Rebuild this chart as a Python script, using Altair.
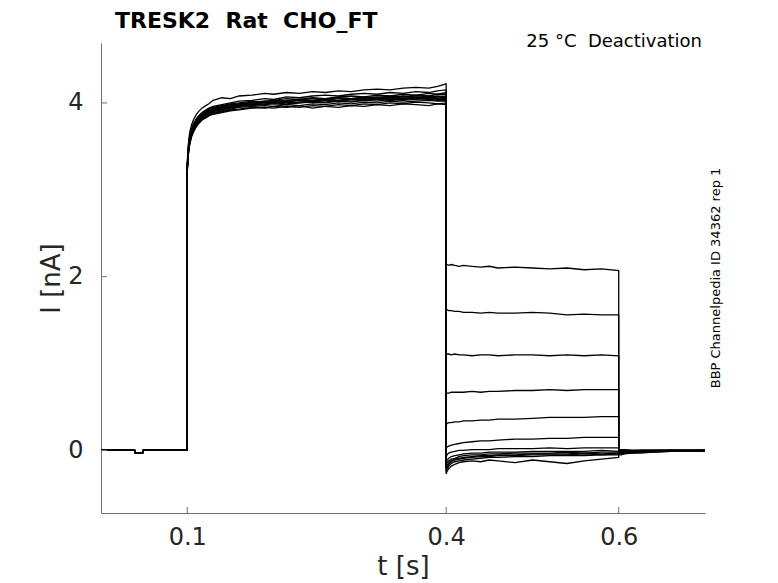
import altair as alt
import pandas as pd

FONT = "DejaVu Sans"
TXT = "#262626"
AX = "#707070"

X_TICKS = [0.1, 0.4, 0.6]
Y_TICKS = [0, 2, 4]

# holding phase (shared by all sweeps)
T_PRE = [0.0, 0.039, 0.0395, 0.0485, 0.049, 0.1]
PRE = [0.0, 0.0, -0.025, -0.025, 0.0, 0.0]

# activation step
T_ACT = [0.1, 0.1005, 0.101, 0.102, 0.103, 0.105, 0.107, 0.11, 0.113, 0.117, 0.12,
         0.125, 0.13, 0.14, 0.15, 0.16, 0.175, 0.19, 0.2, 0.215, 0.23, 0.245,
         0.26, 0.275, 0.29, 0.305, 0.32, 0.335, 0.35, 0.365, 0.38, 0.39, 0.4]

ACT_1 = [3.30, 3.42, 3.50, 3.60, 3.67, 3.75, 3.80, 3.86, 3.90, 3.94, 3.96,
         3.99, 4.03, 4.06, 4.05, 4.08, 4.09, 4.11, 4.10, 4.12, 4.11, 4.13,
         4.12, 4.14, 4.13, 4.15, 4.16, 4.15, 4.17, 4.18, 4.17, 4.19, 4.22]
ACT_2 = [3.28, 3.39, 3.47, 3.56, 3.62, 3.70, 3.76, 3.81, 3.85, 3.89, 3.91,
         3.94, 3.96, 3.98, 4.00, 4.02, 4.03, 4.05, 4.04, 4.07, 4.06, 4.08,
         4.09, 4.08, 4.10, 4.11, 4.10, 4.12, 4.11, 4.13, 4.12, 4.14, 4.15]
ACT_3 = [3.27, 3.37, 3.45, 3.54, 3.61, 3.69, 3.74, 3.79, 3.84, 3.87, 3.90,
         3.93, 3.95, 3.97, 3.99, 4.00, 4.02, 4.01, 4.03, 4.05, 4.04, 4.06,
         4.05, 4.07, 4.08, 4.07, 4.09, 4.08, 4.10, 4.09, 4.11, 4.10, 4.12]
ACT_4 = [3.26, 3.36, 3.44, 3.53, 3.59, 3.67, 3.72, 3.78, 3.82, 3.86, 3.88,
         3.91, 3.93, 3.96, 3.97, 3.99, 4.00, 4.02, 4.01, 4.03, 4.04, 4.03,
         4.05, 4.06, 4.05, 4.07, 4.06, 4.08, 4.07, 4.09, 4.08, 4.10, 4.10]
ACT_5 = [3.25, 3.35, 3.43, 3.52, 3.58, 3.66, 3.71, 3.77, 3.81, 3.85, 3.87,
         3.90, 3.92, 3.94, 3.96, 3.98, 3.99, 4.00, 4.02, 4.01, 4.03, 4.02,
         4.04, 4.03, 4.05, 4.04, 4.06, 4.05, 4.07, 4.06, 4.08, 4.07, 4.08]
ACT_6 = [3.24, 3.34, 3.42, 3.51, 3.57, 3.65, 3.70, 3.76, 3.80, 3.84, 3.86,
         3.89, 3.91, 3.93, 3.95, 3.97, 3.98, 3.99, 4.00, 4.01, 4.00, 4.02,
         4.03, 4.02, 4.04, 4.03, 4.05, 4.04, 4.05, 4.06, 4.05, 4.07, 4.06]
ACT_7 = [3.23, 3.33, 3.41, 3.50, 3.56, 3.64, 3.69, 3.75, 3.79, 3.83, 3.85,
         3.88, 3.90, 3.92, 3.94, 3.96, 3.97, 3.98, 3.99, 3.98, 4.00, 4.01,
         4.00, 4.02, 4.01, 4.03, 4.02, 4.04, 4.03, 4.04, 4.05, 4.04, 4.04]
ACT_8 = [3.22, 3.32, 3.40, 3.49, 3.55, 3.63, 3.68, 3.74, 3.78, 3.82, 3.84,
         3.87, 3.89, 3.91, 3.93, 3.95, 3.96, 3.97, 3.96, 3.98, 3.97, 3.99,
         3.98, 4.00, 3.99, 4.01, 4.00, 4.02, 4.01, 4.02, 4.03, 4.02, 4.02]
ACT_9 = [3.22, 3.31, 3.39, 3.48, 3.54, 3.62, 3.67, 3.73, 3.77, 3.81, 3.83,
         3.86, 3.88, 3.90, 3.92, 3.93, 3.95, 3.94, 3.96, 3.95, 3.97, 3.94,
         3.96, 3.98, 3.97, 3.99, 3.98, 4.00, 3.99, 4.01, 4.00, 3.99, 4.00]
ACT_10 = [3.21, 3.30, 3.38, 3.47, 3.53, 3.61, 3.66, 3.72, 3.76, 3.80, 3.82,
          3.85, 3.87, 3.89, 3.91, 3.92, 3.94, 3.95, 3.94, 3.96, 3.95, 3.97,
          3.96, 3.95, 3.97, 3.96, 3.98, 3.97, 3.99, 3.98, 3.97, 3.99, 3.98]
ACT_11 = [3.26, 3.36, 3.44, 3.53, 3.60, 3.68, 3.73, 3.78, 3.83, 3.86, 3.89,
          3.92, 3.94, 3.96, 3.98, 3.99, 4.01, 4.02, 4.03, 4.02, 4.04, 4.05,
          4.04, 4.06, 4.05, 4.06, 4.07, 4.06, 4.08, 4.07, 4.06, 4.08, 4.07]
ACT_12 = [3.25, 3.34, 3.42, 3.51, 3.58, 3.66, 3.71, 3.77, 3.81, 3.85, 3.87,
          3.90, 3.92, 3.95, 3.96, 3.98, 3.99, 4.01, 4.00, 4.02, 4.03, 4.02,
          4.04, 4.03, 4.04, 4.05, 4.04, 4.06, 4.05, 4.07, 4.06, 4.05, 4.05]
ACT_13 = [3.24, 3.33, 3.41, 3.50, 3.57, 3.65, 3.70, 3.76, 3.80, 3.84, 3.86,
          3.89, 3.91, 3.93, 3.95, 3.97, 3.98, 3.99, 4.00, 3.99, 4.01, 4.02,
          4.01, 4.03, 4.02, 4.03, 4.04, 4.03, 4.04, 4.05, 4.04, 4.03, 4.03]

# deactivation steps
T_DEACT = [0.4, 0.401, 0.403, 0.406, 0.41, 0.415, 0.42, 0.43, 0.44,
           0.45, 0.46, 0.48, 0.5, 0.52, 0.54, 0.56, 0.58, 0.6]

DEACT_1 = [2.14, 2.14, 2.13, 2.14, 2.13, 2.12, 2.13, 2.12, 2.11,
           2.12, 2.10, 2.11, 2.10, 2.09, 2.10, 2.08, 2.09, 2.07]
DEACT_2 = [1.62, 1.62, 1.61, 1.61, 1.60, 1.60, 1.59, 1.59, 1.58,
           1.59, 1.58, 1.58, 1.59, 1.58, 1.56, 1.57, 1.56, 1.56]
DEACT_3 = [1.11, 1.11, 1.11, 1.10, 1.11, 1.10, 1.10, 1.09, 1.10,
           1.10, 1.09, 1.10, 1.10, 1.09, 1.10, 1.09, 1.10, 1.09]
DEACT_4 = [0.66, 0.66, 0.66, 0.67, 0.67, 0.67, 0.67, 0.68, 0.67,
           0.68, 0.68, 0.69, 0.69, 0.70, 0.69, 0.70, 0.70, 0.70]
DEACT_5 = [0.29, 0.31, 0.32, 0.32, 0.33, 0.33, 0.34, 0.34, 0.35,
           0.35, 0.36, 0.36, 0.37, 0.38, 0.38, 0.38, 0.39, 0.39]
DEACT_6 = [0.02, 0.04, 0.05, 0.06, 0.07, 0.08, 0.09, 0.10, 0.11,
           0.11, 0.12, 0.13, 0.13, 0.14, 0.14, 0.15, 0.15, 0.15]
DEACT_7 = [-0.08, -0.05, -0.03, -0.02, -0.01, 0.00, 0.00, 0.01, 0.01,
           0.01, 0.02, 0.02, 0.02, 0.03, 0.02, 0.03, 0.03, 0.03]
DEACT_8 = [-0.14, -0.11, -0.09, -0.07, -0.06, -0.05, -0.04, -0.03, -0.03,
           -0.02, -0.02, -0.02, -0.01, -0.01, -0.01, -0.01, 0.00, -0.01]
DEACT_9 = [-0.17, -0.14, -0.12, -0.10, -0.09, -0.07, -0.06, -0.05, -0.05,
           -0.04, -0.04, -0.03, -0.03, -0.03, -0.02, -0.03, -0.02, -0.02]
DEACT_10 = [-0.20, -0.17, -0.14, -0.12, -0.10, -0.09, -0.08, -0.07, -0.06,
            -0.06, -0.05, -0.05, -0.04, -0.04, -0.04, -0.03, -0.04, -0.03]
DEACT_11 = [-0.22, -0.19, -0.16, -0.13, -0.11, -0.10, -0.09, -0.08, -0.07,
            -0.07, -0.06, -0.06, -0.05, -0.05, -0.05, -0.04, -0.05, -0.04]
DEACT_12 = [-0.24, -0.21, -0.18, -0.15, -0.13, -0.12, -0.11, -0.10, -0.09,
            -0.08, -0.08, -0.07, -0.07, -0.06, -0.06, -0.06, -0.05, -0.05]
DEACT_13 = [-0.27, -0.24, -0.21, -0.18, -0.16, -0.14, -0.13, -0.12, -0.13,
            -0.11, -0.12, -0.14, -0.11, -0.13, -0.15, -0.12, -0.10, -0.08]

# return to holding
T_TAIL = [0.6, 0.603, 0.607, 0.615, 0.625, 0.64, 0.66, 0.7]
TAIL_1 = [-0.03, -0.03, -0.02, -0.02, -0.01, -0.01, -0.01, 0.00]
TAIL_2 = [-0.03, -0.02, -0.02, -0.02, -0.01, -0.01, 0.00, 0.00]
TAIL_3 = [-0.02, -0.02, -0.02, -0.01, -0.01, -0.01, 0.00, 0.00]
TAIL_4 = [-0.02, -0.02, -0.01, -0.01, -0.01, 0.00, 0.00, 0.00]
TAIL_5 = [-0.01, -0.01, -0.01, -0.01, 0.00, 0.00, 0.00, 0.00]
TAIL_6 = [0.00, 0.00, 0.00, 0.00, 0.00, 0.00, 0.00, 0.00]
TAIL_7 = [0.01, 0.01, 0.01, 0.00, 0.00, 0.00, 0.00, 0.00]
TAIL_8 = [0.00, 0.00, 0.00, 0.00, 0.00, 0.00, 0.00, 0.00]
TAIL_9 = [-0.01, -0.01, -0.01, -0.01, 0.00, 0.00, 0.00, 0.00]
TAIL_10 = [-0.02, -0.02, -0.02, -0.01, -0.01, -0.01, 0.00, 0.00]
TAIL_11 = [-0.03, -0.03, -0.02, -0.02, -0.02, -0.01, -0.01, 0.00]
TAIL_12 = [-0.04, -0.04, -0.03, -0.03, -0.02, -0.02, -0.01, -0.01]
TAIL_13 = [-0.05, -0.05, -0.04, -0.03, -0.03, -0.02, -0.01, -0.01]

ACT = [ACT_1, ACT_2, ACT_3, ACT_4, ACT_5, ACT_6, ACT_7, ACT_8, ACT_9, ACT_10, ACT_11, ACT_12, ACT_13]
DEACT = [DEACT_1, DEACT_2, DEACT_3, DEACT_4, DEACT_5, DEACT_6, DEACT_7, DEACT_8, DEACT_9,
         DEACT_10, DEACT_11, DEACT_12, DEACT_13]
TAIL = [TAIL_1, TAIL_2, TAIL_3, TAIL_4, TAIL_5, TAIL_6, TAIL_7, TAIL_8, TAIL_9,
        TAIL_10, TAIL_11, TAIL_12, TAIL_13]

rows = []
for i in range(len(ACT)):
    seq = (list(zip(T_PRE, PRE)) + list(zip(T_ACT, ACT[i]))
           + list(zip(T_DEACT, DEACT[i])) + list(zip(T_TAIL, TAIL[i])))
    for k, (t, v) in enumerate(seq):
        rows.append({"trace": i, "k": k, "t": t, "I": v})
df = pd.DataFrame(rows)

W, H = 604, 470
xs = alt.Scale(domain=[0, 0.7], nice=False, zero=False)
ys = alt.Scale(domain=[-0.72, 4.69], nice=False, zero=False)

lines = alt.Chart(df).mark_line(color="black", strokeWidth=1.3).encode(
    x=alt.X("t:Q", scale=xs, axis=alt.Axis(
        values=X_TICKS, format=".1f", title="t [s]", ticks=False, tickSize=0, grid=False,
        labelFont=FONT, labelFontSize=24, labelColor=TXT, labelPadding=12,
        titleFont=FONT, titleFontSize=26, titleFontWeight="normal", titleColor=TXT,
        titleX=302, titleY=61, titleBaseline="alphabetic", titleAlign="center",
        domainColor=AX, domainWidth=1)),
    y=alt.Y("I:Q", scale=ys, axis=alt.Axis(
        values=Y_TICKS, format="d", title="I [nA]", ticks=False, tickSize=0, grid=False,
        labelFont=FONT, labelFontSize=24, labelColor=TXT, labelPadding=18,
        titleFont=FONT, titleFontSize=26, titleFontWeight="normal", titleColor=TXT,
        titleX=-50, titleY=235, titleAngle=270, titleAlign="center", titleBaseline="middle",
        domainColor=AX, domainWidth=1)),
    detail="trace:N",
    order="k:Q",
)

xt = alt.Chart(pd.DataFrame({"v": X_TICKS})).mark_rule(color=AX, strokeWidth=1).encode(
    x=alt.X("v:Q", scale=xs), y=alt.value(H), y2=alt.value(H - 6))
yt = alt.Chart(pd.DataFrame({"v": Y_TICKS})).mark_rule(color=AX, strokeWidth=1).encode(
    y=alt.Y("v:Q", scale=ys), x=alt.value(0), x2=alt.value(6))

ttl = alt.Chart(pd.DataFrame({"s": ["TRESK2\u00a0 Rat\u00a0 CHO_FT"]})).mark_text(
    font=FONT, fontSize=22, fontWeight="bold", color="black", align="left", baseline="alphabetic"
).encode(text="s:N", x=alt.value(14), y=alt.value(-15))

cond = alt.Chart(pd.DataFrame({"s": ["25 °C\u00a0 Deactivation"]})).mark_text(
    font=FONT, fontSize=18, color="black", align="right", baseline="alphabetic"
).encode(text="s:N", x=alt.value(601), y=alt.value(4))

src = alt.Chart(pd.DataFrame({"s": ["BBP Channelpedia ID 34362 rep 1"]})).mark_text(
    font=FONT, fontSize=13, color="black", align="center", baseline="middle", angle=270
).encode(text="s:N", x=alt.value(615), y=alt.value(235))

chart = alt.layer(lines, xt, yt, ttl, cond, src).properties(
    width=W, height=H,
    autosize=alt.AutoSizeParams(type="none"),
    padding={"left": 93, "top": 35, "right": 50, "bottom": 70},
).configure_view(stroke=None)

chart.save("out.html", embed_options={"renderer": "svg", "actions": False})
